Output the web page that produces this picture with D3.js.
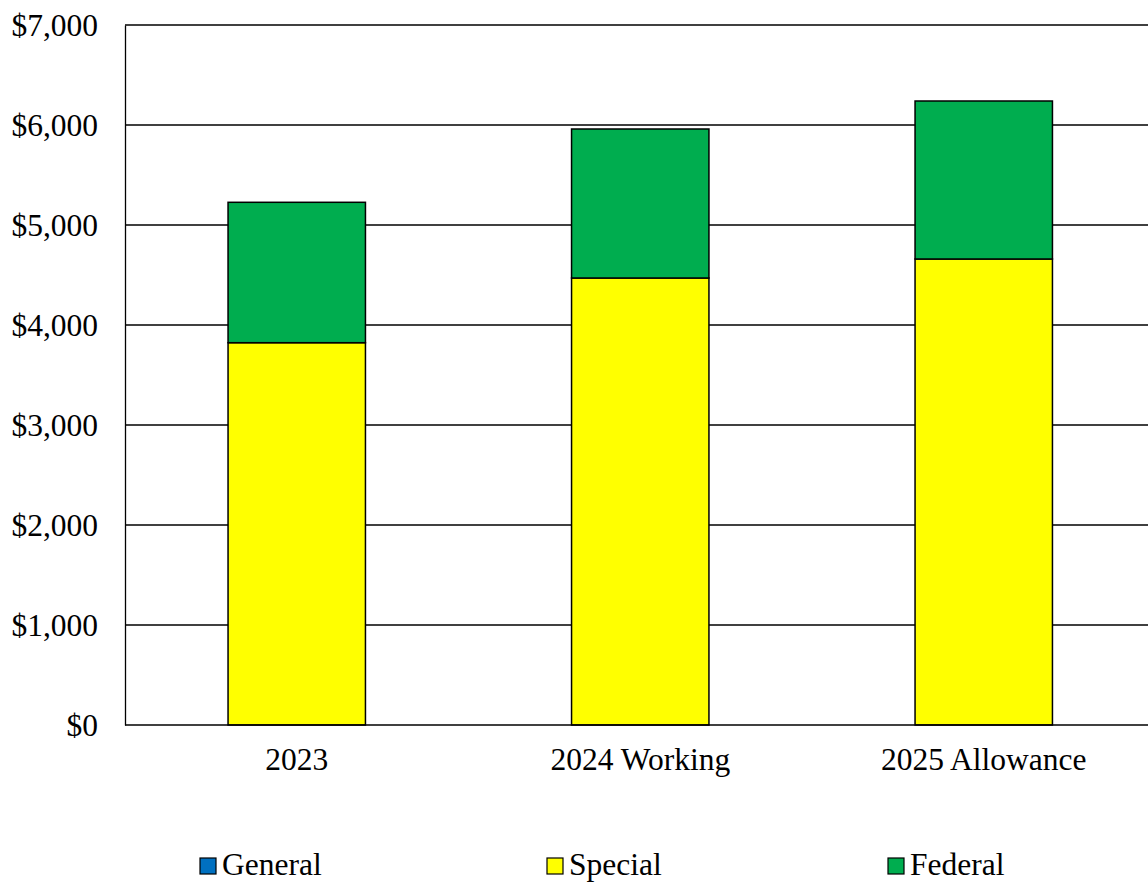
<html>
<head>
<meta charset="UTF-8" />
<style>
body { margin: 0; background: #fff; }
text { font-family: "Liberation Serif", "Times New Roman", serif; fill: #000; }
</style>
</head>
<body>
<script src="https://d3js.org/d3.v7.min.js"></script>
<script>
var width = 1148;
var height = 882;

var categories = ["2023", "2024 Working", "2025 Allowance"];
var general = [0, 0, 0];
var special = [3823, 4470, 4660];
var federal = [1404, 1490, 1580];
var seriesNames = ["General", "Special", "Federal"];
var seriesColors = ["#0070C0", "#FFFF00", "#00AD4F"];
var yTicks = [0, 1000, 2000, 3000, 4000, 5000, 6000, 7000];

var margin = {left: 125, top: 25, bottom: 157};
var bandW = 343.5;
var fontSize = "31.5px";

var svg = d3.select("body")
			.append("svg")
			.attr("width", width)
			.attr("height", height);

var rows = categories.map((c, i) => ({cat: c, General: general[i], Special: special[i], Federal: federal[i]}));
var stacked = d3.stack().keys(seriesNames)(rows);

var x = d3.scaleBand()
		  .domain(categories)
		  .range([margin.left, margin.left + bandW * categories.length])
		  .paddingInner(0.6)
		  .paddingOuter(0.3);

var y = d3.scaleLinear()
		  .domain([0, 7000])
		  .range([height - margin.bottom, margin.top]);

// gridlines
svg.append("g")
   .selectAll("line")
   .data(yTicks.slice(1))
   .enter()
   .append("line")
   .attr("x1", margin.left)
   .attr("x2", width)
   .attr("y1", d => y(d))
   .attr("y2", d => y(d))
   .attr("stroke", "#000")
   .attr("stroke-width", 1.3);

// bars
svg.append("g")
   .selectAll("g")
   .data(stacked)
   .enter()
   .append("g")
   .attr("fill", (d, i) => seriesColors[i])
   .selectAll("rect")
   .data(d => d.filter(p => p[1] - p[0] > 0))
   .enter()
   .append("rect")
   .attr("x", d => x(d.data.cat))
   .attr("width", x.bandwidth())
   .attr("y", d => y(d[1]))
   .attr("height", d => y(d[0]) - y(d[1]))
   .attr("stroke", "#000")
   .attr("stroke-width", 1.5);

// y axis
var yAxis = svg.append("g")
			   .attr("transform", "translate(" + margin.left + ",0)")
			   .call(d3.axisLeft(y).tickValues(yTicks).tickSize(0).tickPadding(27)
			   .tickFormat(d => "$" + d3.format(",")(d)));
yAxis.select(".domain").attr("stroke", "#000").attr("stroke-width", 1.3);
yAxis.selectAll("text").style("font-size", fontSize).attr("font-family", null);

// x axis
var xAxis = svg.append("g")
			   .attr("transform", "translate(0," + y(0) + ")")
			   .call(d3.axisBottom(x).tickSize(0).tickPadding(23));
xAxis.select(".domain").attr("d", "M" + margin.left + ",0H" + width).attr("stroke", "#000").attr("stroke-width", 1.3);
xAxis.selectAll("text").style("font-size", fontSize).attr("font-family", null);

// legend
var legendX = [200, 547, 888];
var legend = svg.append("g")
				.selectAll("g")
				.data(seriesNames)
				.enter()
				.append("g")
				.attr("transform", (d, i) => "translate(" + legendX[i] + ",858)");
legend.append("rect")
	  .attr("width", 16)
	  .attr("height", 16)
	  .attr("fill", (d, i) => seriesColors[i])
	  .attr("stroke", "#000")
	  .attr("stroke-width", 1.2);
legend.append("text")
	  .attr("x", 22)
	  .attr("y", 17)
	  .style("font-size", fontSize)
	  .text(d => d);
</script>
</body>
</html>
